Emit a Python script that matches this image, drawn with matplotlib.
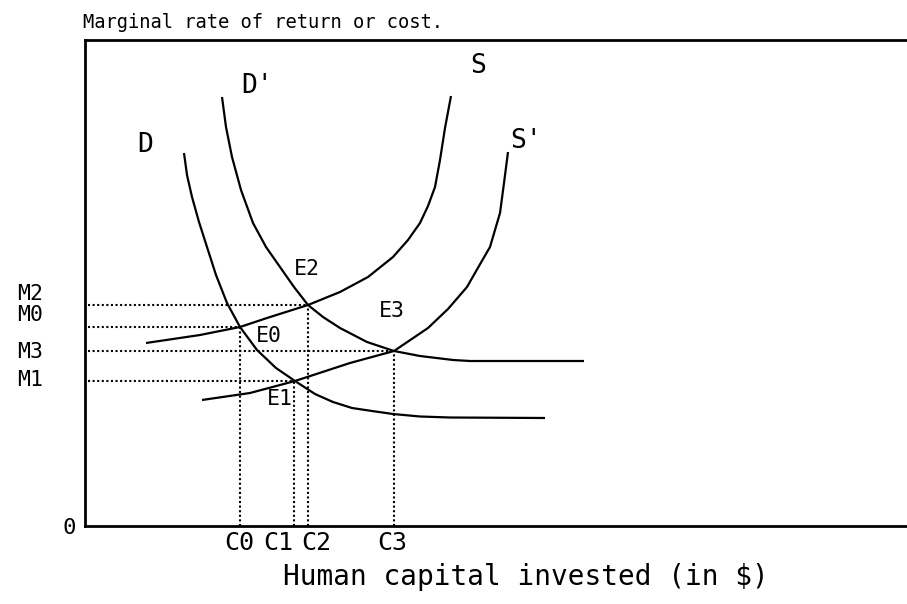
import numpy as np
import matplotlib.pyplot as plt

plt.rcParams['font.family'] = ['DejaVu Sans Mono', 'DejaVu Sans']

# curves (x = capital invested, y = marginal rate)
d_x = [99, 102, 107, 114, 122, 131, 142, 155, 172, 191, 210, 230, 248, 267, 287, 308, 335, 365, 460]
d_y = [373, 351, 329, 304, 279, 251, 223, 199, 176, 158, 145, 132, 124, 118, 115, 112, 109.5, 108.5, 108]

d2_x = [137, 141, 147, 156, 168, 181, 195, 209, 223, 238, 255, 282, 309, 335, 368, 385, 499]
d2_y = [429, 399, 369, 336, 303, 279, 259, 239, 221, 209, 198, 184, 175, 170, 166, 165, 165]

s_x = [61, 115, 155, 182, 223, 255, 283, 308, 323, 335, 343, 350, 355, 360, 366]
s_y = [183, 191, 199, 208, 221, 234, 249, 269, 286, 303, 320, 339, 366, 398, 430]

s2_x = [117, 165, 210, 265, 309, 343, 363, 382, 394, 405, 415, 419, 423]
s2_y = [126, 133, 145, 163, 175, 198, 217, 239, 260, 279, 313, 343, 374]

# equilibria
eq_names = ['E0', 'E1', 'E2', 'E3']
eq_c = [155, 209, 223, 309]
eq_m = [199, 145, 221, 175]
m_names = ['M0', 'M1', 'M2', 'M3']
c_names = ['C0', 'C1', 'C2', 'C3']

fig = plt.figure(figsize=(9.07, 6.04), dpi=100)
ax = fig.add_axes([85/907, 78/604, 822/907, 486/604])
ax.set_xlim(0, 822)
ax.set_ylim(0, 486)

for xs, ys in [(d_x, d_y), (d2_x, d2_y), (s_x, s_y), (s2_x, s2_y)]:
    ax.plot(xs, ys, color='black', lw=1.6, solid_capstyle='butt', solid_joinstyle='round')

for c, m in zip(eq_c, eq_m):
    ax.plot([3, c], [m, m], color='black', ls=(0, (1, 1.2)), lw=1.5)
    ax.plot([c, c], [0, m], color='black', ls=(0, (1, 1.2)), lw=1.5)

# curve labels
ax.text(60, 381, 'D', fontsize=19, ha='center', va='center')
ax.text(172, 440, "D'", fontsize=19, ha='center', va='center')
ax.text(393, 460, 'S', fontsize=19, ha='center', va='center')
ax.text(441, 385, "S'", fontsize=19, ha='center', va='center')

eq_lab = {'E0': (184, 190), 'E1': (195, 127), 'E2': (222, 257), 'E3': (307, 215)}
for n in eq_names:
    ax.text(eq_lab[n][0], eq_lab[n][1], n, fontsize=15.5, ha='center', va='center')

m_lab_y = {'M0': 211, 'M1': 146, 'M2': 232, 'M3': 174}
for n in m_names:
    ax.text(-55, m_lab_y[n], n, fontsize=15.5, ha='center', va='center', clip_on=False)

c_lab_x = [154, 193, 231, 307]
for n, x in zip(c_names, c_lab_x):
    ax.text(x, -17, n, fontsize=18, ha='center', va='center', clip_on=False)

ax.text(-16, -2, '0', fontsize=16, ha='center', va='center', clip_on=False)

ax.text(441, -51, 'Human capital invested (in $)', fontsize=20,
        ha='center', va='center', clip_on=False)
fig.text(83/907, 1 - 28/604, 'Marginal rate of return or cost.', fontsize=13.5,
         ha='left', va='baseline')

ax.set_xticks([])
ax.set_yticks([])
ax.spines['right'].set_visible(False)
for sp in ['left', 'bottom', 'top']:
    ax.spines[sp].set_linewidth(2)

fig.savefig('out.png', dpi=100)
